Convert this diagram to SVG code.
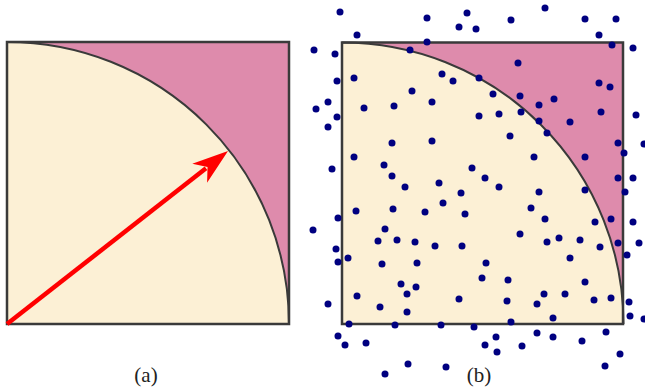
<svg xmlns="http://www.w3.org/2000/svg" width="645" height="387" viewBox="0 0 645 387">
<style>
.sq{fill:#DE8BAC;stroke:none}
.qd{fill:#FCF0D5;stroke:none}
.arc{fill:none;stroke:#3a3a3a;stroke-width:2}
.bd{fill:none;stroke:#3a3a3a;stroke-width:2.5}
.d{fill:#000080}
.lbl{font-family:"Liberation Serif","DejaVu Serif",serif;font-size:21px;fill:#222;text-anchor:middle}
</style>
<rect width="645" height="387" fill="#ffffff"/>
<g id="panel-a">
<rect class="sq" x="7" y="42" width="282" height="282"/>
<path class="qd" d="M7,42 A282,282 0 0 1 289,324 L7,324 Z"/>
<path class="arc" d="M7,42 A282,282 0 0 1 289,324"/>
<rect class="bd" x="7" y="42" width="282" height="282"/>
</g>
<g id="arrow">
<line x1="7" y1="324" x2="206" y2="168.3" stroke="#ff0000" stroke-width="4.5"/>
<path d="M0,0 L-36,-12 L-26,0 L-36,12 Z" fill="#ff0000" transform="translate(228,151) rotate(-38.1)"/>
</g>
<g id="panel-b">
<rect class="sq" x="342" y="42.5" width="281" height="281.5"/>
<path class="qd" d="M342,42.5 A281.5,281.5 0 0 1 623.5,324 L342,324 Z"/>
<path class="arc" d="M342,42.5 A281.5,281.5 0 0 1 623.5,324"/>
<rect class="bd" x="342" y="42.5" width="281" height="281.5"/>
</g>
<g id="dots">
<circle class="d" cx="340" cy="12" r="3.5"/><circle class="d" cx="357" cy="35" r="3.5"/><circle class="d" cx="314" cy="50" r="3.5"/><circle class="d" cx="335" cy="54" r="3.5"/><circle class="d" cx="410" cy="50" r="3.5"/><circle class="d" cx="337" cy="81" r="3.5"/><circle class="d" cx="354" cy="78" r="3.5"/><circle class="d" cx="412" cy="91" r="3.5"/><circle class="d" cx="328" cy="102" r="3.5"/><circle class="d" cx="316" cy="109" r="3.5"/><circle class="d" cx="364" cy="108" r="3.5"/><circle class="d" cx="394" cy="106" r="3.5"/><circle class="d" cx="337" cy="117" r="3.5"/><circle class="d" cx="328" cy="127" r="3.5"/>
<circle class="d" cx="427" cy="18" r="3.5"/><circle class="d" cx="467" cy="13" r="3.5"/><circle class="d" cx="459" cy="27" r="3.5"/><circle class="d" cx="476" cy="29" r="3.5"/><circle class="d" cx="511" cy="20" r="3.5"/><circle class="d" cx="427" cy="42" r="3.5"/><circle class="d" cx="518" cy="63" r="3.5"/><circle class="d" cx="442" cy="74" r="3.5"/><circle class="d" cx="453" cy="81" r="3.5"/><circle class="d" cx="479" cy="78" r="3.5"/><circle class="d" cx="493" cy="94" r="3.5"/><circle class="d" cx="520" cy="96" r="3.5"/><circle class="d" cx="432" cy="102" r="3.5"/><circle class="d" cx="479" cy="116" r="3.5"/><circle class="d" cx="499" cy="114" r="3.5"/><circle class="d" cx="521" cy="112" r="3.5"/>
<circle class="d" cx="545" cy="8" r="3.5"/><circle class="d" cx="585" cy="19" r="3.5"/><circle class="d" cx="616" cy="19" r="3.5"/><circle class="d" cx="599" cy="35" r="3.5"/><circle class="d" cx="612" cy="45" r="3.5"/><circle class="d" cx="633" cy="48" r="3.5"/><circle class="d" cx="599" cy="83" r="3.5"/><circle class="d" cx="610" cy="87" r="3.5"/><circle class="d" cx="554" cy="99" r="3.5"/><circle class="d" cx="539" cy="105" r="3.5"/><circle class="d" cx="601" cy="112" r="3.5"/><circle class="d" cx="636" cy="115" r="3.5"/><circle class="d" cx="539" cy="121" r="3.5"/><circle class="d" cx="570" cy="122" r="3.5"/>
<circle class="d" cx="392" cy="143" r="3.5"/><circle class="d" cx="354" cy="157" r="3.5"/><circle class="d" cx="332" cy="169" r="3.5"/><circle class="d" cx="384" cy="165" r="3.5"/><circle class="d" cx="392" cy="176" r="3.5"/><circle class="d" cx="405" cy="187" r="3.5"/><circle class="d" cx="356" cy="211" r="3.5"/><circle class="d" cx="393" cy="209" r="3.5"/><circle class="d" cx="338" cy="218" r="3.5"/><circle class="d" cx="313" cy="230" r="3.5"/><circle class="d" cx="385" cy="229" r="3.5"/><circle class="d" cx="378" cy="241" r="3.5"/><circle class="d" cx="397" cy="240" r="3.5"/><circle class="d" cx="415" cy="242" r="3.5"/><circle class="d" cx="336" cy="249" r="3.5"/><circle class="d" cx="348" cy="258" r="3.5"/>
<circle class="d" cx="432" cy="141" r="3.5"/><circle class="d" cx="510" cy="136" r="3.5"/><circle class="d" cx="534" cy="157" r="3.5"/><circle class="d" cx="472" cy="168" r="3.5"/><circle class="d" cx="439" cy="183" r="3.5"/><circle class="d" cx="485" cy="178" r="3.5"/><circle class="d" cx="499" cy="187" r="3.5"/><circle class="d" cx="461" cy="193" r="3.5"/><circle class="d" cx="443" cy="203" r="3.5"/><circle class="d" cx="425" cy="212" r="3.5"/><circle class="d" cx="465" cy="214" r="3.5"/><circle class="d" cx="531" cy="208" r="3.5"/><circle class="d" cx="520" cy="234" r="3.5"/><circle class="d" cx="435" cy="246" r="3.5"/><circle class="d" cx="462" cy="246" r="3.5"/>
<circle class="d" cx="547" cy="133" r="3.5"/><circle class="d" cx="618" cy="143" r="3.5"/><circle class="d" cx="644" cy="144" r="3.5"/><circle class="d" cx="624" cy="153" r="3.5"/><circle class="d" cx="585" cy="157" r="3.5"/><circle class="d" cx="618" cy="178" r="3.5"/><circle class="d" cx="633" cy="178" r="3.5"/><circle class="d" cx="539" cy="192" r="3.5"/><circle class="d" cx="585" cy="190" r="3.5"/><circle class="d" cx="625" cy="192" r="3.5"/><circle class="d" cx="545" cy="219" r="3.5"/><circle class="d" cx="595" cy="222" r="3.5"/><circle class="d" cx="611" cy="219" r="3.5"/><circle class="d" cx="633" cy="222" r="3.5"/><circle class="d" cx="547" cy="242" r="3.5"/><circle class="d" cx="559" cy="238" r="3.5"/><circle class="d" cx="580" cy="240" r="3.5"/><circle class="d" cx="600" cy="247" r="3.5"/><circle class="d" cx="618" cy="243" r="3.5"/><circle class="d" cx="639" cy="243" r="3.5"/><circle class="d" cx="570" cy="258" r="3.5"/><circle class="d" cx="627" cy="255" r="3.5"/>
<circle class="d" cx="338" cy="262" r="3.5"/><circle class="d" cx="382" cy="264" r="3.5"/><circle class="d" cx="417" cy="263" r="3.5"/><circle class="d" cx="401" cy="284" r="3.5"/><circle class="d" cx="416" cy="287" r="3.5"/><circle class="d" cx="407" cy="294" r="3.5"/><circle class="d" cx="357" cy="296" r="3.5"/><circle class="d" cx="328" cy="304" r="3.5"/><circle class="d" cx="380" cy="307" r="3.5"/><circle class="d" cx="407" cy="312" r="3.5"/><circle class="d" cx="349" cy="324" r="3.5"/><circle class="d" cx="395" cy="325" r="3.5"/><circle class="d" cx="338" cy="336" r="3.5"/><circle class="d" cx="345" cy="345" r="3.5"/><circle class="d" cx="366" cy="343" r="3.5"/><circle class="d" cx="408" cy="364" r="3.5"/><circle class="d" cx="385" cy="374" r="3.5"/>
<circle class="d" cx="486" cy="263" r="3.5"/><circle class="d" cx="482" cy="278" r="3.5"/><circle class="d" cx="508" cy="280" r="3.5"/><circle class="d" cx="459" cy="299" r="3.5"/><circle class="d" cx="507" cy="301" r="3.5"/><circle class="d" cx="441" cy="325" r="3.5"/><circle class="d" cx="474" cy="327" r="3.5"/><circle class="d" cx="511" cy="322" r="3.5"/><circle class="d" cx="496" cy="337" r="3.5"/><circle class="d" cx="485" cy="345" r="3.5"/><circle class="d" cx="497" cy="352" r="3.5"/><circle class="d" cx="522" cy="346" r="3.5"/><circle class="d" cx="446" cy="367" r="3.5"/>
<circle class="d" cx="585" cy="282" r="3.5"/><circle class="d" cx="544" cy="294" r="3.5"/><circle class="d" cx="565" cy="294" r="3.5"/><circle class="d" cx="537" cy="304" r="3.5"/><circle class="d" cx="594" cy="300" r="3.5"/><circle class="d" cx="611" cy="298" r="3.5"/><circle class="d" cx="629" cy="302" r="3.5"/><circle class="d" cx="630" cy="316" r="3.5"/><circle class="d" cx="644" cy="319" r="3.5"/><circle class="d" cx="553" cy="318" r="3.5"/><circle class="d" cx="537" cy="333" r="3.5"/><circle class="d" cx="553" cy="337" r="3.5"/><circle class="d" cx="582" cy="341" r="3.5"/><circle class="d" cx="606" cy="332" r="3.5"/><circle class="d" cx="620" cy="354" r="3.5"/><circle class="d" cx="605" cy="366" r="3.5"/>
</g>
<g id="labels">
<text class="lbl" x="146" y="382">(a)</text>
<text class="lbl" x="479" y="382">(b)</text>
</g>
</svg>
